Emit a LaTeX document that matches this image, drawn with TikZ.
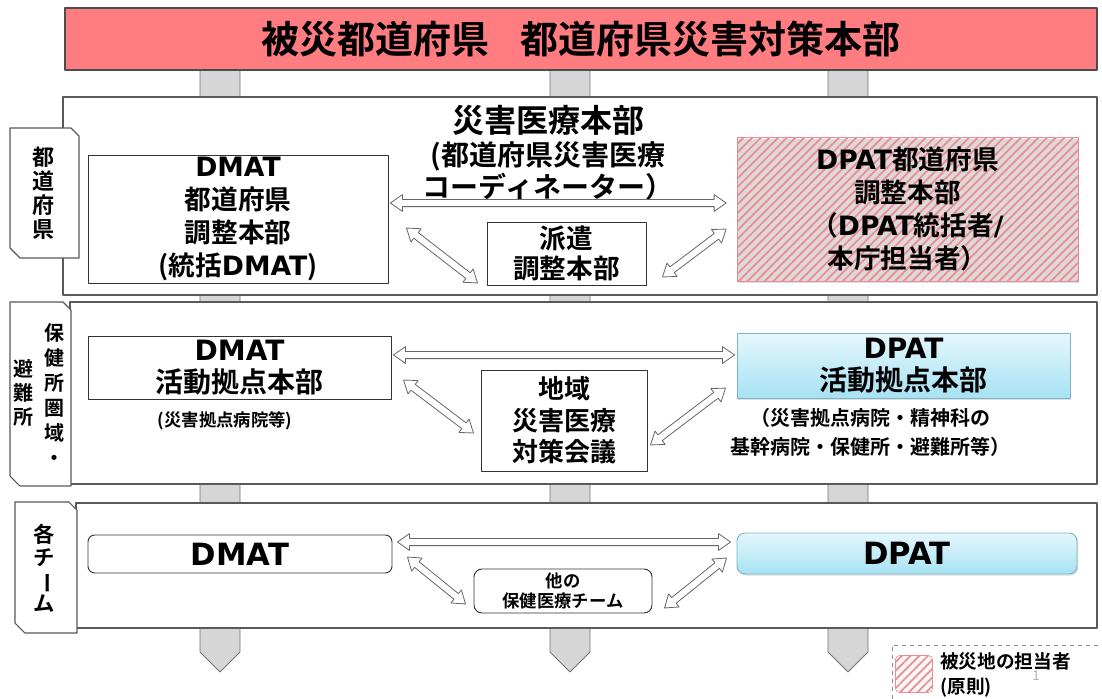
\documentclass[tikz,border=0pt]{standalone}
\usepackage{fontspec}
\setmainfont{Noto Sans CJK JP}[BoldFont={Noto Sans CJK JP Bold}]
\newfontfamily\latinfont{DejaVu Sans}
\newcommand\lat[1]{{\latinfont #1}}
\usepackage{graphicx}
\usetikzlibrary{calc,shapes.arrows,patterns.meta,shadows}
\definecolor{bannerred}{RGB}{255,124,128}
\definecolor{bluetop}{RGB}{229,247,252}
\definecolor{bluebot}{RGB}{166,226,244}
\definecolor{blueedge}{RGB}{125,180,198}
\definecolor{hatchred}{RGB}{234,140,148}
\definecolor{hatchbg}{RGB}{255,246,246}
\tikzset{
  panel/.style={draw=black!65, fill=white, line width=0.8pt},
  tab/.style={draw=black!65, fill=white, line width=0.8pt},
  pillar/.style={draw=black!55, fill=black!16, line width=0.6pt},
  box/.style={draw=black!80, fill=white, line width=0.7pt, align=center, inner sep=0pt},
  hatch/.style={preaction={fill=hatchbg},
    pattern={Lines[angle=45, distance=4.6pt, line width=1.3pt]}, pattern color=hatchred},
  hatchbox/.style={box, draw=hatchred, hatch,
    drop shadow={shadow xshift=1pt, shadow yshift=-1.2pt, opacity=0.25}},
  bluebox/.style={box, draw=blueedge, top color=bluetop, bottom color=bluebot,
    drop shadow={shadow xshift=1pt, shadow yshift=-1.2pt, opacity=0.25}},
  dblarr/.style={double arrow, draw=black!60, fill=white, line width=0.6pt,
    inner sep=2.4pt, double arrow head extend=3.6pt, double arrow tip angle=70},
  tabtext/.style={align=center, inner sep=0pt}
}
\newcommand\hollowlink[2]{%
  \path let \p1=($(#2)-(#1)$), \n1={veclen(\x1,\y1)}, \n2={atan2(\y1,\x1)} in
    node[dblarr, minimum height=\n1, rotate=\n2] at ($(#1)!0.5!(#2)$) {};}
\begin{document}
\begin{tikzpicture}[x=0.75pt, y=-0.75pt, line join=round, font=\bfseries]
\useasboundingbox (0,0) rectangle (1102,699);
\fill[white] (0,0) rectangle (1102,699);

\foreach \x in {220,570,848}
  \draw[pillar] (\x-20,69) -- (\x+20,69) -- (\x+20,652) -- (\x,672) -- (\x-20,652) -- cycle;

\node[draw=black!70, fill=bannerred, line width=0.8pt, minimum width=774pt, minimum height=46.5pt,
  font=\fontsize{28.5}{30}\selectfont\bfseries] (banner) at (581,39) {被災都道府県\hspace{0.8em}都道府県災害対策本部};

\draw[panel] (63,97) rectangle (1097,295);
\draw[panel] (70,302) rectangle (1097,484);
\draw[panel] (76,503) rectangle (1097,628);

\foreach \a/\b/\c/\d in {10/128/79/258, 10/302/71/486, 15/502/77/633}
  \draw[tab] (\a,\b) -- (\c-8,\b) -- (\c,\b+8) -- (\c,\d) -- (\a+10,\d) -- (\a,\d-10) -- cycle;

\node[tabtext, font=\fontsize{16.5}{18}\selectfont\bfseries] (tabpref) at (43,193) {都\\道\\府\\県};
\node[tabtext, font=\fontsize{15}{18.75}\selectfont\bfseries] (tabarea) at (54,395) {保\\健\\所\\圏\\域\\・};
\node[tabtext, font=\fontsize{15}{18}\selectfont\bfseries] (tabshelter) at (23,393) {避\\難\\所};
\node[tabtext, font=\fontsize{16}{17.25}\selectfont\bfseries] (tabteam) at (44,568)
  {各\\チ\\\rotatebox[origin=c]{-90}{ー}\\ム};

\node[align=center, font=\fontsize{21}{24.5}\selectfont\bfseries] (hq) at (548,153)
  {{\fontsize{24}{24}\selectfont 災害医療本部}\\(都道府県災害医療\\コーディネーター）};
\node[box, minimum width=225pt, minimum height=96pt, font=\fontsize{20}{24.75}\selectfont\bfseries]
  (dmatP) at (238,219) {\lat{DMAT}\\都道府県\\調整本部\\(統括\lat{DMAT})};
\node[hatchbox, minimum width=255.75pt, minimum height=108pt, font=\fontsize{20}{24.75}\selectfont\bfseries]
  (dpatP) at (907.5,209) {\lat{DPAT}都道府県\\調整本部\\（\lat{DPAT}統括者\lat{/}\\本庁担当者）};
\node[box, minimum width=119.25pt, minimum height=47.25pt, font=\fontsize{20}{22.5}\selectfont\bfseries]
  (haken) at (566.5,253.5) {派遣\\調整本部};

\node[box, minimum width=227.25pt, minimum height=47.25pt, font=\fontsize{21}{24}\selectfont\bfseries]
  (dmatA) at (239.5,367.5) {\lat{DMAT}\\活動拠点本部};
\node[bluebox, minimum width=249.75pt, minimum height=48.75pt, font=\fontsize{21}{24}\selectfont\bfseries]
  (dpatA) at (903.5,365.5) {\lat{DPAT}\\活動拠点本部};
\node[box, minimum width=124.5pt, minimum height=75.75pt, font=\fontsize{19.5}{23.6}\selectfont\bfseries]
  (chiiki) at (564,420.5) {地域\\災害医療\\対策会議};
\node[font=\fontsize{13}{15}\selectfont\bfseries] (noteA) at (225,421) {(災害拠点病院等)};
\node[align=center, font=\fontsize{15}{21.75}\selectfont\bfseries] (noteB) at (870,432)
  {（災害拠点病院・精神科の\\基幹病院・保健所・避難所等）};

\node[box, rounded corners=5pt, minimum width=228pt, minimum height=28.5pt, font=\fontsize{23}{24}\selectfont\bfseries]
  (dmatT) at (240,554) {\lat{DMAT}};
\node[bluebox, rounded corners=6pt, minimum width=255pt, minimum height=30.75pt, font=\fontsize{23}{24}\selectfont\bfseries]
  (dpatT) at (907,553.5) {\lat{DPAT}};
\node[box, rounded corners=6pt, minimum width=133.5pt, minimum height=33pt, font=\fontsize{13}{15}\selectfont\bfseries]
  (other) at (563,591) {他の\\保健医療チーム};

\hollowlink{[shift={(2,-16)}]dmatP.east}{[shift={(-10,-6)}]dpatP.west}
\hollowlink{[shift={(18,9)}]dmatP.east}{[shift={(-9,29.5)}]haken.west}
\hollowlink{[shift={(16,23.5)}]haken.east}{[shift={(-10,20)}]dpatP.west}

\hollowlink{[shift={(2,-12.5)}]dmatA.east}{[shift={(-2,-10.5)}]dpatA.west}
\hollowlink{[shift={(12,12.5)}]dmatA.east}{[shift={(-7,12.5)}]chiiki.west}
\hollowlink{[shift={(3,24.5)}]chiiki.east}{[shift={(-11,22.5)}]dpatA.west}

\hollowlink{[shift={(5,-12)}]dmatT.east}{[shift={(-6,-11.5)}]dpatT.west}
\hollowlink{[shift={(15,3)}]dmatT.east}{[shift={(-8,13)}]other.west}
\hollowlink{[shift={(12,17)}]other.east}{[shift={(-10,4.5)}]dpatT.west}

\draw[dashed, draw=black!45, line width=0.6pt] (892,699) -- (892,645) -- (1102,645);
\node[draw=hatchred, rounded corners=3pt, minimum size=27.75pt, inner sep=0pt, hatch] (swatch) at (914,674) {};
\node[anchor=west, align=left, inner sep=0pt, font=\fontsize{14}{18.75}\selectfont\bfseries]
  (legend) at (940,675) {被災地の担当者\\(原則)};
\node[text=black!30, font=\fontsize{10}{10}\selectfont\mdseries] (pageno) at (1036,676) {1};
\end{tikzpicture}
\end{document}
